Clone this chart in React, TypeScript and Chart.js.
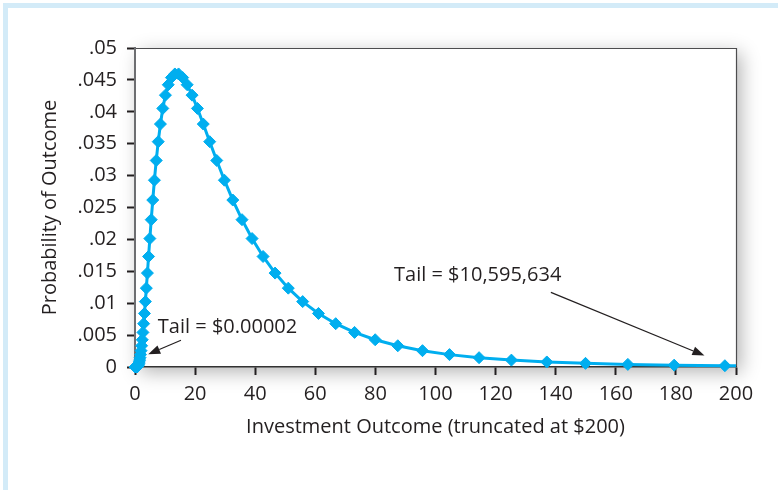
import React, { useEffect, useRef } from 'react';
import { Chart, registerables } from 'chart.js';

Chart.register(...registerables);

// Investment outcomes (x, $) and their probabilities
const outcomes = [
  0.15, 0.17, 0.18, 0.2, 0.22, 0.24, 0.26, 0.28, 0.31, 0.34,
  0.37, 0.4, 0.44, 0.48, 0.52, 0.57, 0.63, 0.69, 0.75, 0.82,
  0.9, 0.98, 1.07, 1.18, 1.29, 1.41, 1.54, 1.68, 1.84, 2.01,
  2.2, 2.41, 2.64, 2.88, 3.15, 3.45, 3.77, 4.13, 4.51, 4.94,
  5.4, 5.91, 6.46, 7.07, 7.73, 8.46, 9.25, 10.12, 11.07, 12.12,
  13.26, 14.5, 15.86, 17.36, 18.99, 20.77, 22.72, 24.86, 27.2, 29.75,
  32.55, 35.61, 38.96, 42.62, 46.62, 51.01, 55.8, 61.05, 66.79, 73.06,
  79.93, 87.45, 95.67, 104.66, 114.5, 125.26, 137.04, 149.92, 164.01, 179.43,
  196.3, 214.75,
];
const probabilities = [
  0, 0, 0, 0, 0, 0, 0, 0, 0, 0,
  0, 0, 0, 0.00001, 0.00001, 0.00002, 0.00003, 0.00004, 0.00007, 0.0001,
  0.00014, 0.0002, 0.00029, 0.00041, 0.00057, 0.00079, 0.00108, 0.00146, 0.00194, 0.00256,
  0.00333, 0.00427, 0.00542, 0.00679, 0.00839, 0.01025, 0.01236, 0.01472, 0.01732, 0.02013,
  0.02309, 0.02617, 0.02928, 0.03237, 0.03532, 0.03808, 0.04053, 0.04261, 0.04424, 0.04536,
  0.04593, 0.04593, 0.04536, 0.04424, 0.04261, 0.04053, 0.03808, 0.03532, 0.03237, 0.02928,
  0.02617, 0.02309, 0.02013, 0.01732, 0.01472, 0.01236, 0.01025, 0.00839, 0.00679, 0.00542,
  0.00427, 0.00333, 0.00256, 0.00194, 0.00146, 0.00108, 0.00079, 0.00057, 0.00041, 0.00029,
  0.0002, 0.00014,
];

const xTickValues = [0, 20, 40, 60, 80, 100, 120, 140, 160, 180, 200];
const yTickValues = [0, 0.005, 0.01, 0.015, 0.02, 0.025, 0.03, 0.035, 0.04, 0.045, 0.05];
const yTickLabels = ['0', '.005', '.01', '.015', '.02', '.025', '.03', '.035', '.04', '.045', '.05'];

const xTitle = 'Investment Outcome (truncated at $200)';
const yTitle = 'Probability of Outcome';

// Annotations (data coordinates)
const lowTailText = 'Tail = $0.00002';
const lowTailTextAt = [7.6, 0.0063];
const lowTailArrow = [15.3, 0.0042, 4.4, 0.002];
const highTailText = 'Tail = $10,595,634';
const highTailTextAt = [86.2, 0.0144];
const highTailArrow = [138.4, 0.0117, 189.5, 0.0018];

const FONT = "'Open Sans', 'Noto Sans', sans-serif";
const FS = 20;
const TEXT = '#231f20';
const LINE = '#00aeef';

const decorPlugin = {
  id: 'decor',
  beforeDraw(chart: any) {
    const { ctx, chartArea: a } = chart;
    ctx.save();
    ctx.fillStyle = '#d3ebf8';
    ctx.fillRect(3, 3, 5, chart.height - 3);
    ctx.fillRect(3, 3, chart.width - 3, 5);
    ctx.shadowColor = 'rgba(0,0,0,0.3)';
    ctx.shadowBlur = 18;
    ctx.shadowOffsetX = 5;
    ctx.shadowOffsetY = 5;
    ctx.fillStyle = '#ffffff';
    ctx.fillRect(a.left, a.top, a.right - a.left, a.bottom - a.top);
    ctx.restore();
    ctx.save();
    ctx.strokeStyle = '#4d4d4f';
    ctx.lineWidth = 1.2;
    ctx.beginPath();
    ctx.moveTo(a.left, a.top + 0.5);
    ctx.lineTo(a.right + 0.5, a.top + 0.5);
    ctx.lineTo(a.right + 0.5, a.bottom);
    ctx.stroke();
    ctx.restore();
  },
  afterDatasetsDraw(chart: any) {
    const { ctx } = chart;
    const xs = chart.scales.x;
    const ys = chart.scales.y;
    const arrow = (p: number[]) => {
      const x1 = xs.getPixelForValue(p[0]);
      const y1 = ys.getPixelForValue(p[1]);
      const x2 = xs.getPixelForValue(p[2]);
      const y2 = ys.getPixelForValue(p[3]);
      const ang = Math.atan2(y2 - y1, x2 - x1);
      const L = 12;
      const W = 4.5;
      const bx = x2 - L * Math.cos(ang);
      const by = y2 - L * Math.sin(ang);
      ctx.save();
      ctx.strokeStyle = '#231f20';
      ctx.fillStyle = '#231f20';
      ctx.lineWidth = 1.2;
      ctx.beginPath();
      ctx.moveTo(x1, y1);
      ctx.lineTo(bx, by);
      ctx.stroke();
      ctx.beginPath();
      ctx.moveTo(x2, y2);
      ctx.lineTo(bx + W * Math.sin(ang), by - W * Math.cos(ang));
      ctx.lineTo(bx - W * Math.sin(ang), by + W * Math.cos(ang));
      ctx.closePath();
      ctx.fill();
      ctx.restore();
    };
    arrow(lowTailArrow);
    arrow(highTailArrow);
    ctx.save();
    ctx.font = `${FS}px ${FONT}`;
    ctx.fillStyle = TEXT;
    ctx.textAlign = 'left';
    ctx.textBaseline = 'middle';
    ctx.fillText(lowTailText, xs.getPixelForValue(lowTailTextAt[0]), ys.getPixelForValue(lowTailTextAt[1]));
    ctx.fillText(highTailText, xs.getPixelForValue(highTailTextAt[0]), ys.getPixelForValue(highTailTextAt[1]));
    ctx.restore();
  },
};

export default function App() {
  const ref = useRef<HTMLCanvasElement | null>(null);
  useEffect(() => {
    if (!ref.current) return;
    const data = outcomes.map((x, i) => ({ x, y: probabilities[i] }));
    const chart = new Chart(ref.current, {
      type: 'line',
      data: {
        datasets: [
          {
            data,
            borderColor: LINE,
            backgroundColor: LINE,
            borderWidth: 3,
            pointStyle: 'rectRot',
            pointRadius: 6,
            pointBorderWidth: 1,
            pointBorderColor: LINE,
            pointBackgroundColor: LINE,
            tension: 0,
            clip: { left: 10, top: 10, right: 0, bottom: 10 } as any,
          },
        ],
      },
      options: {
        animation: false,
        responsive: false,
        maintainAspectRatio: false,
        layout: { padding: { left: 0, top: 48, right: 42, bottom: 0 } },
        plugins: { legend: { display: false }, tooltip: { enabled: false } },
        scales: {
          x: {
            type: 'linear',
            min: 0,
            max: 200,
            afterFit(s: any) { s.height = 123; },
            afterBuildTicks(s: any) { s.ticks = xTickValues.map((v) => ({ value: v })); },
            border: { display: true, color: '#333333', width: 1.5 },
            grid: { drawOnChartArea: false, drawTicks: true, tickLength: 8, tickColor: '#231f20', tickWidth: 2 },
            ticks: { color: TEXT, font: { family: FONT, size: FS }, padding: 7, maxRotation: 0, autoSkip: false },
            title: { display: true, text: xTitle, color: TEXT, font: { family: FONT, size: FS }, padding: { top: 0, bottom: 51 } },
          },
          y: {
            type: 'linear',
            min: 0,
            max: 0.05,
            afterFit(s: any) { s.width = 135; },
            afterBuildTicks(s: any) { s.ticks = yTickValues.map((v) => ({ value: v })); },
            border: { display: true, color: '#6d6e71', width: 2 },
            grid: { drawOnChartArea: false, drawTicks: true, tickLength: 8, tickColor: '#231f20', tickWidth: 2 },
            ticks: {
              color: TEXT,
              font: { family: FONT, size: FS },
              padding: 10,
              autoSkip: false,
              callback: (v: any) => {
                const i = yTickValues.findIndex((t) => Math.abs(t - Number(v)) < 1e-9);
                return i >= 0 ? yTickLabels[i] : '';
              },
            },
            title: { display: true, text: yTitle, color: TEXT, font: { family: FONT, size: FS }, padding: { top: 38, bottom: 0 } },
          },
        },
      },
      plugins: [decorPlugin],
    });
    return () => chart.destroy();
  }, []);
  return (
    <div style={{ position: 'fixed', left: 0, top: 0, width: 778, height: 490, background: '#ffffff' }}>
      <canvas ref={ref} width={778} height={490} style={{ display: 'block', width: 778, height: 490 }} />
    </div>
  );
}
